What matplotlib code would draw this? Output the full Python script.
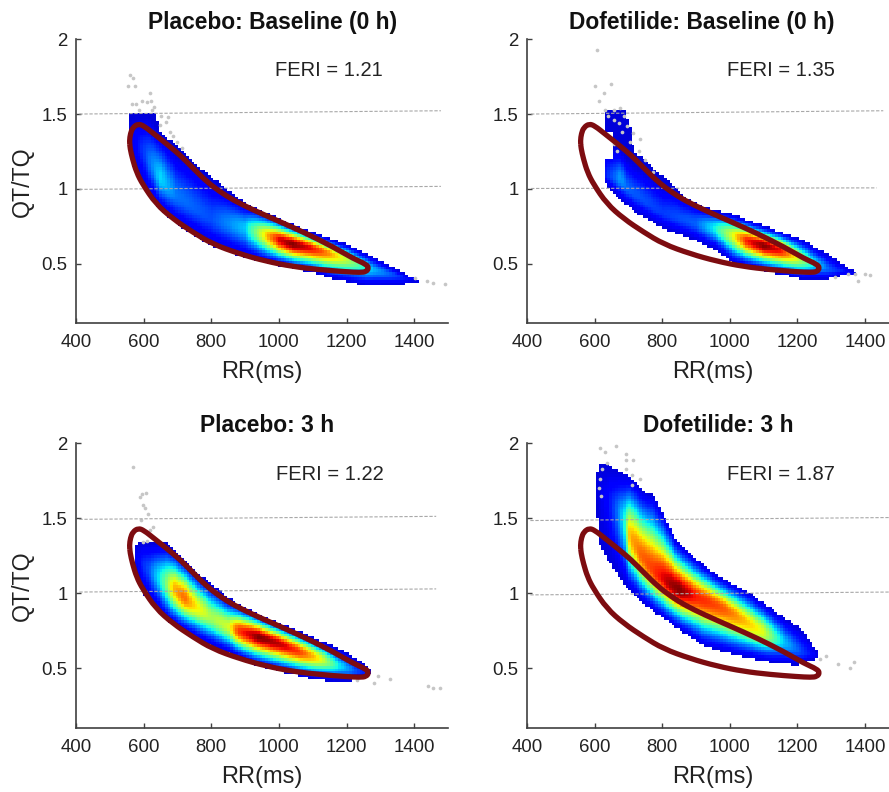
'''
QT/TQ vs RR density plots, four panels (placebo / dofetilide, baseline / 3 h)
'''
import numpy as np
import matplotlib
matplotlib.use('Agg')
import matplotlib.pyplot as plt
from matplotlib.path import Path
from matplotlib.patches import PathPatch

plt.rcParams['font.family'] = ['Liberation Sans', 'DejaVu Sans']

# reference contour (same in every panel)
contour_rr = [558, 561, 568, 584, 601, 629, 668, 708, 747, 787, 826, 865, 925, 1004, 1082, 1161, 1220, 1258, 1266,
              1258, 1240, 1198, 1119, 1040, 962, 883, 804, 745, 686, 636, 597, 579, 567, 560]
contour_qt = [1.32, 1.37, 1.41, 1.435, 1.42, 1.37, 1.30, 1.225, 1.136, 1.047, 0.98, 0.924, 0.857, 0.779, 0.70, 0.61, 0.533, 0.495, 0.47,
              0.445, 0.44, 0.445, 0.459, 0.48, 0.515, 0.565, 0.63, 0.71, 0.80, 0.90, 1.03, 1.11, 1.20, 1.27]

titles = ['Placebo: Baseline (0 h)', 'Dofetilide: Baseline (0 h)', 'Placebo: 3 h', 'Dofetilide: 3 h']
feri = ['FERI = 1.21', 'FERI = 1.35', 'FERI = 1.22', 'FERI = 1.87']
xticks = [400, 600, 800, 1000, 1200, 1400]
yticks = [0.5, 1, 1.5, 2]
yticklabels = ['0.5', '1', '1.5', '2']

# Placebo baseline
a_top_rr = [558, 640, 645, 700, 750, 800, 850, 900, 1000, 1100, 1200, 1300, 1400, 1412]
a_top_qt = [1.50, 1.50, 1.38, 1.29, 1.17, 1.08, 0.99, 0.905, 0.80, 0.71, 0.63, 0.52, 0.40, 0.38]
a_bot_rr = [558, 570, 600, 650, 700, 800, 900, 1000, 1100, 1160, 1260, 1350, 1412]
a_bot_qt = [1.28, 1.15, 1.01, 0.86, 0.76, 0.62, 0.54, 0.49, 0.44, 0.40, 0.35, 0.35, 0.38]
a_ridge_rr = [558, 600, 650, 700, 800, 900, 950, 1000, 1040, 1100, 1150, 1200, 1280, 1400]
a_ridge_qt = [1.34, 1.25, 1.07, 0.95, 0.80, 0.74, 0.70, 0.66, 0.63, 0.60, 0.565, 0.53, 0.46, 0.39]
a_peak = [0.08, 0.18, 0.34, 0.24, 0.20, 0.32, 0.62, 0.92, 1.00, 0.90, 0.75, 0.58, 0.30, 0.10]

# Dofetilide baseline
b_top_rr = [630, 690, 710, 715, 765, 823, 863, 922, 1001, 1109, 1208, 1287, 1365, 1378]
b_top_qt = [1.53, 1.53, 1.39, 1.26, 1.15, 1.05, 0.95, 0.88, 0.835, 0.745, 0.667, 0.567, 0.455, 0.43]
b_bot_rr = [630, 666, 725, 804, 883, 962, 1011, 1119, 1218, 1287, 1356, 1378]
b_bot_qt = [1.04, 0.946, 0.835, 0.734, 0.667, 0.589, 0.50, 0.444, 0.393, 0.393, 0.433, 0.43]
b_ridge_rr = [630, 676, 700, 800, 900, 950, 1000, 1050, 1100, 1150, 1200, 1250, 1300, 1378]
b_ridge_qt = [1.09, 1.07, 1.00, 0.84, 0.77, 0.74, 0.70, 0.655, 0.62, 0.59, 0.54, 0.50, 0.46, 0.43]
b_peak = [0.14, 0.28, 0.22, 0.18, 0.22, 0.35, 0.58, 0.88, 1.00, 0.90, 0.62, 0.35, 0.20, 0.08]

# Placebo 3 h
c_top_rr = [575, 597, 666, 706, 765, 814, 863, 961, 1060, 1178, 1257, 1275]
c_top_qt = [1.33, 1.35, 1.34, 1.26, 1.13, 1.04, 0.95, 0.84, 0.75, 0.63, 0.53, 0.47]
c_bot_rr = [575, 600, 666, 785, 922, 1011, 1100, 1159, 1208, 1257, 1275]
c_bot_qt = [1.15, 1.00, 0.82, 0.665, 0.53, 0.475, 0.43, 0.41, 0.41, 0.445, 0.46]
c_ridge_rr = [575, 620, 660, 690, 720, 750, 800, 850, 880, 940, 1000, 1060, 1120, 1180, 1230, 1275]
c_ridge_qt = [1.24, 1.15, 1.08, 1.03, 0.97, 0.92, 0.84, 0.78, 0.75, 0.71, 0.665, 0.61, 0.565, 0.515, 0.48, 0.465]
c_peak = [0.10, 0.22, 0.45, 0.72, 0.80, 0.68, 0.55, 0.60, 0.85, 1.00, 0.95, 0.85, 0.65, 0.35, 0.20, 0.10]

# Dofetilide 3 h
d_top_rr = [604, 612, 640, 660, 705, 745, 774, 804, 843, 883, 962, 1060, 1159, 1218, 1257, 1265]
d_top_qt = [1.77, 1.86, 1.87, 1.83, 1.78, 1.68, 1.655, 1.53, 1.35, 1.265, 1.12, 1.00, 0.84, 0.75, 0.62, 0.57]
d_bot_rr = [604, 612, 636, 686, 745, 824, 922, 1021, 1119, 1198, 1247, 1265]
d_bot_qt = [1.65, 1.35, 1.24, 1.065, 0.93, 0.80, 0.65, 0.585, 0.54, 0.52, 0.56, 0.57]
d_ridge_rr = [604, 640, 660, 686, 705, 735, 774, 824, 853, 902, 981, 1040, 1099, 1159, 1218, 1265]
d_ridge_qt = [1.70, 1.62, 1.56, 1.49, 1.38, 1.26, 1.15, 1.06, 1.02, 0.975, 0.90, 0.82, 0.74, 0.675, 0.60, 0.58]
d_peak = [0.08, 0.12, 0.20, 0.35, 0.72, 0.80, 0.85, 0.97, 1.00, 0.88, 0.82, 0.72, 0.62, 0.32, 0.18, 0.08]

# outlying beats (grey) and gaps in the density (white)
a_out_rr = [560, 570, 555, 573, 566, 576, 596, 618, 621, 611, 631, 626, 586, 652, 672, 665, 648, 678, 688, 698, 712, 1438, 1457, 1490, 1403]
a_out_qt = [1.76, 1.74, 1.69, 1.69, 1.57, 1.57, 1.59, 1.64, 1.59, 1.58, 1.55, 1.53, 1.53, 1.49, 1.48, 1.45, 1.43, 1.38, 1.35, 1.31, 1.27, 0.38, 0.37, 0.36, 0.40]
b_out_rr = [607, 600, 649, 627, 614, 632, 656, 676, 686, 641, 656, 671, 696, 681, 715, 735, 705, 656, 666, 730, 750, 774, 1400, 1415, 1380, 1370, 1351, 1311]
b_out_qt = [1.93, 1.69, 1.70, 1.64, 1.59, 1.53, 1.53, 1.54, 1.49, 1.49, 1.46, 1.44, 1.42, 1.38, 1.37, 1.33, 1.31, 1.30, 1.25, 1.25, 1.19, 1.11, 0.43, 0.42, 0.38, 0.43, 0.43, 0.41]
c_out_rr = [568, 606, 594, 590, 599, 604, 614, 591, 629, 619, 599, 609, 1294, 1329, 1280, 1230, 1442, 1457, 1475]
c_out_qt = [1.84, 1.67, 1.66, 1.64, 1.59, 1.57, 1.53, 1.49, 1.44, 1.42, 1.34, 1.35, 0.45, 0.43, 0.40, 0.42, 0.38, 0.37, 0.37]
d_out_rr = [617, 632, 663, 694, 694, 715, 694, 710, 735, 710, 636, 1285, 1267, 1321, 1368, 1356, 623, 617, 612, 618]
d_out_qt = [1.97, 1.94, 1.98, 1.93, 1.89, 1.89, 1.83, 1.79, 1.76, 1.72, 1.87, 0.58, 0.56, 0.53, 0.54, 0.50, 1.83, 1.76, 1.70, 1.65]

# dashed guides: [left rr, right rr], [left qt, right qt]
a_guides = [([410, 1479], [1.50, 1.522]), ([410, 1479], [0.996, 1.016])]
b_guides = [([412, 1454], [1.50, 1.522]), ([412, 1434], [1.002, 1.006])]
c_guides = [([410, 1465], [1.494, 1.514]), ([410, 1465], [1.009, 1.03])]
d_guides = [([410, 1471], [1.486, 1.506]), ([410, 1471], [0.99, 1.009])]

# empty patch below the dofetilide baseline pillar: rr from, rr to, qt from, qt to
b_holes = [(630, 655, 1.20, 1.38)]

panels = [
    (a_top_rr, a_top_qt, a_bot_rr, a_bot_qt, a_ridge_rr, a_ridge_qt, a_peak, a_out_rr, a_out_qt, a_guides, []),
    (b_top_rr, b_top_qt, b_bot_rr, b_bot_qt, b_ridge_rr, b_ridge_qt, b_peak, b_out_rr, b_out_qt, b_guides, b_holes),
    (c_top_rr, c_top_qt, c_bot_rr, c_bot_qt, c_ridge_rr, c_ridge_qt, c_peak, c_out_rr, c_out_qt, c_guides, []),
    (d_top_rr, d_top_qt, d_bot_rr, d_bot_qt, d_ridge_rr, d_ridge_qt, d_peak, d_out_rr, d_out_qt, d_guides, []),
]

W, H = 889, 792
# axes boxes in pixels: left, right, top, bottom
boxes = [(76, 448, 39.3, 323.3), (527, 889, 39.3, 323.3), (76, 448, 443.5, 728.3), (527, 889, 443.5, 728.3)]
xmax = [1500, 1471, 1500, 1471]
title_xy = [(273, 22), (702, 22), (267, 426), (718, 426)]
label_xy = [(262, 372), (713, 372), (262, 777), (713, 777)]
feri_xy = [(329, 71), (781, 70), (330, 475), (781, 475)]
ylabel_xy = [(22, 182), None, (22, 586), None]
width_cap = [0.30, 0.20, 0.40, 0.50]

LINE = '#404040'
TEXT = '#222222'
FLOOR = 0.08
K = 1.6


def density(top_rr, top_qt, bot_rr, bot_qt, ridge_rr, ridge_qt, peak, cap, holes):
    # rebuild the binned density column by column from the read-off envelope
    rr_edges = np.arange(min(top_rr), max(top_rr) + 8, 8.0)
    qt_edges = np.arange(0.30, 2.0, 0.018)
    rr = (rr_edges[:-1] + rr_edges[1:]) / 2
    qt = (qt_edges[:-1] + qt_edges[1:]) / 2
    R, Q = np.meshgrid(rr, qt)
    top = np.interp(R, top_rr, top_qt)
    bot = np.interp(R, bot_rr, bot_qt)
    mid = np.interp(R, ridge_rr, ridge_qt)
    pk = np.interp(R, ridge_rr, peak)
    up = np.clip(top - mid, 0.02, cap)
    down = np.maximum(mid - bot, 0.02)
    u = np.where(Q >= mid, (Q - mid) / up, (mid - Q) / down)
    u = np.clip(u, 0, 1)
    e = np.exp(-K ** 2)
    Z = FLOOR + (pk - FLOOR) * (np.exp(-(K * u) ** 2) - e) / (1 - e)
    mask = (Q > top) | (Q < bot)
    for r0, r1, q0, q1 in holes:
        mask |= (R > r0) & (R < r1) & (Q > q0) & (Q < q1)
    return rr_edges, qt_edges, np.ma.masked_where(mask, Z)


def closed_curve(xs, ys):
    # quadratic curve segments with the read-off points as control points
    pts = np.column_stack([xs, ys])
    mids = (pts + np.roll(pts, -1, axis=0)) / 2
    verts = [mids[-1]]
    codes = [Path.MOVETO]
    for pt, mp in zip(pts, mids):
        verts += [pt, mp]
        codes += [Path.CURVE3, Path.CURVE3]
    return Path(verts, codes)


fig = plt.figure(figsize=(W / 100, H / 100), dpi=100, facecolor='white')

for i, p in enumerate(panels):
    top_rr, top_qt, bot_rr, bot_qt, ridge_rr, ridge_qt, peak, out_rr, out_qt, guides, holes = p
    l, r, t, b = boxes[i]
    ax = fig.add_axes([l / W, 1 - b / H, (r - l) / W, (b - t) / H])
    x_e, y_e, Z = density(top_rr, top_qt, bot_rr, bot_qt, ridge_rr, ridge_qt, peak, width_cap[i], holes)
    ax.pcolormesh(x_e, y_e, Z, cmap='jet', vmin=0, vmax=1, shading='flat', zorder=1, rasterized=True)
    ax.scatter(out_rr, out_qt, s=7, color='#c6c6c6', linewidths=0, zorder=2)
    for gx, gy in guides:
        ax.plot(gx, gy, color='#a8a8a8', lw=0.8, dashes=(3, 1.5), zorder=3)
    ax.add_patch(PathPatch(closed_curve(contour_rr, contour_qt), fill=False, edgecolor='#7d0c10', lw=3.8, joinstyle='round', zorder=4))

    ax.set_xlim(400, xmax[i])
    ax.set_ylim(0.1, 2)
    ax.set_xticks(xticks)
    ax.set_yticks(yticks)
    ax.set_yticklabels(yticklabels)
    ax.tick_params(direction='in', length=3.5, width=1, color=LINE, labelcolor=TEXT, labelsize=13.4, pad=6)
    ax.tick_params(axis='x', pad=8)
    ax.spines['top'].set_visible(False)
    ax.spines['right'].set_visible(False)
    for s in ['left', 'bottom']:
        ax.spines[s].set_color(LINE)
        ax.spines[s].set_linewidth(1.2)

    x, y = title_xy[i]
    fig.text(x / W, 1 - y / H, titles[i], fontsize=16.4, fontweight='bold', color='#111111', ha='center', va='center')
    x, y = label_xy[i]
    fig.text(x / W, 1 - y / H, 'RR(ms)', fontsize=17, color=TEXT, ha='center', va='center')
    x, y = feri_xy[i]
    fig.text(x / W, 1 - y / H, feri[i], fontsize=14.5, color=TEXT, ha='center', va='center')
    if ylabel_xy[i]:
        x, y = ylabel_xy[i]
        fig.text(x / W, 1 - y / H, 'QT/TQ', fontsize=16.7, color=TEXT, ha='center', va='center', rotation=90)

fig.savefig('out.png', dpi=100)
